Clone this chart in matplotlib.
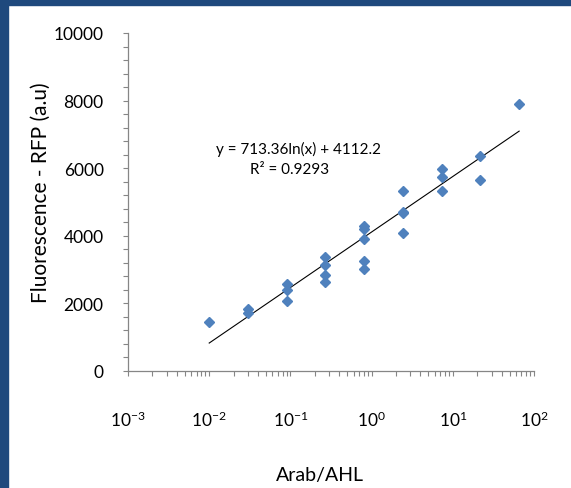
import numpy as np
import matplotlib
matplotlib.use('Agg')
import matplotlib.pyplot as plt
from matplotlib.ticker import LogLocator, MultipleLocator, NullFormatter
from matplotlib.patches import Rectangle

plt.rcParams['font.family'] = ['Lato', 'DejaVu Sans']
plt.rcParams['axes.unicode_minus'] = False

# Arab/AHL dilution levels and measured fluorescence (a.u)
conc = [0.01, 0.03, 0.03, 0.09, 0.09, 0.09,
        0.27, 0.27, 0.27, 0.27,
        0.81, 0.81, 0.81, 0.81, 0.81,
        2.43, 2.43, 2.43, 2.43,
        7.29, 7.29, 7.29,
        21.87, 21.87, 65.61]
rfp = [1450, 1840, 1720, 2570, 2400, 2060,
       3360, 3125, 2840, 2620,
       4280, 4210, 3910, 3245, 3030,
       5320, 4710, 4660, 4085,
       5985, 5740, 5340,
       6360, 5660, 7890]

# log fit reported on the chart
fit_a = 713.36
fit_b = 4112.2
fit_x = [0.01, 65.61]

fig = plt.figure(figsize=(5.71, 4.89), dpi=100)
# dark blue slide border (left and top)
fig.patches.append(Rectangle((0, 0), 8/571, 1, transform=fig.transFigure,
                             color='#1F497D', zorder=-1))
fig.patches.append(Rectangle((0, 1-6/489), 1, 6/489, transform=fig.transFigure,
                             color='#1F497D', zorder=-1))

ax = fig.add_axes([128/571, 1-372/489, 406/571, 338/489])

xs = np.logspace(np.log10(fit_x[0]), np.log10(fit_x[1]), 200)
ax.plot(xs, fit_a*np.log(xs) + fit_b, color='black', lw=0.8, zorder=2)
ax.plot(conc, rfp, 'D', color='#4F81BD', ms=5.5, mec='#4F81BD', zorder=3)

ax.set_xscale('log')
ax.set_xlim(1e-3, 1e2)
ax.set_ylim(0, 10000)
ax.xaxis.set_major_locator(LogLocator(base=10, numticks=10))
ax.xaxis.set_minor_locator(LogLocator(base=10, subs=np.arange(2, 10), numticks=20))
ax.xaxis.set_minor_formatter(NullFormatter())
ax.yaxis.set_major_locator(MultipleLocator(2000))
ax.yaxis.set_minor_locator(MultipleLocator(400))

for s in ['top', 'right']:
    ax.spines[s].set_visible(False)
for s in ['left', 'bottom']:
    ax.spines[s].set_color('#868686')
    ax.spines[s].set_linewidth(0.9)

ax.tick_params(axis='both', which='both', direction='out', color='#868686',
               length=3.5, width=0.8)
ax.tick_params(axis='x', which='major', pad=24, labelsize=12.5)
ax.tick_params(axis='y', which='major', pad=14, labelsize=12.5)

ax.set_xlabel('Arab/AHL', fontsize=14)
ax.set_ylabel('Fluorescence - RFP (a.u)', fontsize=15)
ax.xaxis.set_label_coords(0.473, -0.281)
ax.yaxis.set_label_coords(-0.19, 0.53)

ax.text(0.419, 0.657, 'y = 713.36ln(x) + 4112.2', transform=ax.transAxes,
        ha='center', va='center', fontsize=11)
ax.text(0.399, 0.598, 'R² = 0.9293', transform=ax.transAxes,
        ha='center', va='center', fontsize=11)

fig.savefig('out.png', dpi=100, facecolor='white')
